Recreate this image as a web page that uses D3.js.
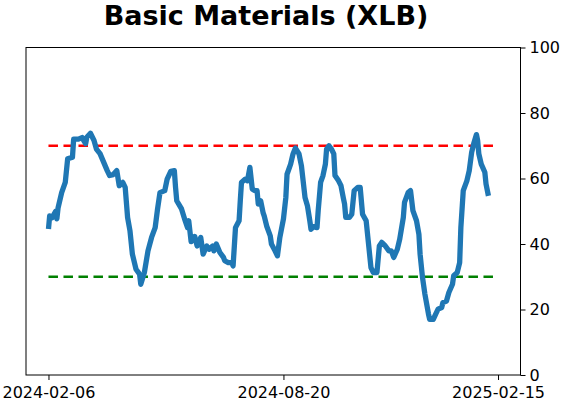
<!DOCTYPE html>
<html>
<head>
<meta charset="utf-8">
<script src="https://cdn.jsdelivr.net/npm/d3@7"></script>
<style>
  body { margin: 0; background: #fff; }
  text { font-family: "DejaVu Sans", sans-serif; }
</style>
</head>
<body>
<div class="canvas"></div>
<script>
// data
const dates = [
  '2024-02-06','2024-02-07','2024-02-09','2024-02-12','2024-02-13','2024-02-14','2024-02-17','2024-02-20','2024-02-22','2024-02-26',
  '2024-02-27','2024-03-02','2024-03-05','2024-03-08','2024-03-09','2024-03-12','2024-03-15','2024-03-17','2024-03-20','2024-03-23',
  '2024-03-26','2024-03-28','2024-03-31','2024-04-03','2024-04-05','2024-04-08','2024-04-10','2024-04-12','2024-04-14','2024-04-16',
  '2024-04-19','2024-04-22','2024-04-23','2024-04-26','2024-04-29','2024-05-02','2024-05-05','2024-05-07','2024-05-09','2024-05-13',
  '2024-05-15','2024-05-18','2024-05-21','2024-05-22','2024-05-23','2024-05-27','2024-05-30','2024-06-01','2024-06-02','2024-06-04',
  '2024-06-07','2024-06-09','2024-06-12','2024-06-14','2024-06-17','2024-06-19','2024-06-22','2024-06-23','2024-06-25','2024-06-28',
  '2024-07-01','2024-07-02','2024-07-05','2024-07-08','2024-07-09','2024-07-11','2024-07-14','2024-07-15','2024-07-16','2024-07-19',
  '2024-07-21','2024-07-23','2024-07-25','2024-07-27','2024-07-29','2024-07-30','2024-08-01','2024-08-03','2024-08-04','2024-08-06',
  '2024-08-09','2024-08-10','2024-08-13','2024-08-15','2024-08-17','2024-08-20','2024-08-22','2024-08-23','2024-08-26','2024-08-28',
  '2024-08-30','2024-09-02','2024-09-04','2024-09-07','2024-09-09','2024-09-11','2024-09-12','2024-09-14','2024-09-17','2024-09-18',
  '2024-09-20','2024-09-22','2024-09-24','2024-09-25','2024-09-27','2024-09-29','2024-10-01','2024-10-02','2024-10-05','2024-10-07',
  '2024-10-09','2024-10-10','2024-10-11','2024-10-14','2024-10-16','2024-10-18','2024-10-21','2024-10-23','2024-10-25','2024-10-28',
  '2024-10-30','2024-11-01','2024-11-03','2024-11-06','2024-11-08','2024-11-10','2024-11-13','2024-11-16','2024-11-18','2024-11-20',
  '2024-11-23','2024-11-25','2024-11-28','2024-11-29','2024-12-02','2024-12-04','2024-12-06','2024-12-09','2024-12-11','2024-12-12',
  '2024-12-14','2024-12-16','2024-12-19','2024-12-20','2024-12-23','2024-12-25','2024-12-27','2024-12-30','2024-12-31','2025-01-03',
  '2025-01-05','2025-01-08','2025-01-09','2025-01-12','2025-01-14','2025-01-15','2025-01-17','2025-01-20','2025-01-22','2025-01-24',
  '2025-01-26','2025-01-28','2025-01-29','2025-01-30','2025-02-01','2025-02-04','2025-02-05','2025-02-07'
];

const values = [
  44.6, 48.6, 48, 50, 47.7, 51, 55.7, 58.8, 66, 66.5,
  72, 72, 72.5, 70.6, 72.6, 73.8, 71.6, 69, 67.6, 65,
  62.4, 60.9, 61.2, 62.4, 57.8, 58.8, 57.3, 48.1, 44, 36.9,
  32.3, 30.8, 27.7, 31.3, 37.9, 42, 45, 50.7, 55.7, 56.3,
  59.8, 62.2, 62.4, 57.3, 53.2, 50.7, 47.1, 45, 47.1, 40.7,
  42.3, 39.4, 42, 36.9, 39.4, 38.4, 39.4, 37.9, 40, 37.4,
  35.9, 34.9, 34.3, 34.3, 33.3, 45, 47.1, 53.2, 58.8, 59.8,
  59.3, 63.4, 56.8, 56.3, 56.3, 52.2, 53.2, 49.6, 48.5, 45.5,
  42.5, 40, 37.9, 36.4, 42, 47.6, 54.2, 61.3, 64.4, 67.5,
  69.3, 67.5, 63.9, 54.2, 51.7, 47.1, 44.5, 45.3, 45, 50.2,
  58.8, 60.9, 64.4, 69, 70, 69, 67.5, 60.9, 59.3, 57.8,
  54, 52.2, 48.1, 48.1, 49.1, 56.3, 57.3, 57.3, 49.1, 47.1,
  40, 32.8, 31.3, 31.3, 39.4, 40.5, 39.4, 37.9, 37.9, 35.9,
  38.4, 41.5, 48.1, 52.7, 55.7, 56.3, 50.2, 47.1, 43, 36.9,
  29.8, 24.7, 18.6, 17, 17, 18.6, 20.1, 20.6, 22.1, 22.6,
  25.2, 27.7, 30.3, 31.3, 34.3, 45, 56.3, 59.3, 62.4, 68,
  71, 73.4, 71.6, 67.5, 64.4, 61.9, 58.3, 54.7
];

const xTickLabels = ['2024-02-06', '2024-08-20', '2025-02-15'];
const yTicks = [0, 20, 40, 60, 80, 100];
const upperLevel = 70;
const lowerLevel = 30;
const title = 'Basic Materials (XLB)';

const width = 562;
const height = 402;
const margin = {top: 47.5, right: 41.5, bottom: 27, left: 26};
const graphWidth = width - margin.left - margin.right;
const graphHeight = height - margin.top - margin.bottom;

const parse = d3.timeParse('%Y-%m-%d');
const data = dates.map((d, i) => ({date: parse(d), value: values[i]}));
const tickDates = xTickLabels.map(parse);

const svg = d3.select('.canvas')
  .append('svg')
    .attr('width', width)
    .attr('height', height);

const graph = svg.append('g')
  .attr('transform', `translate(${margin.left}, ${margin.top})`);

// x range runs 5% past the first and last tick date
const t0 = tickDates[0].getTime();
const t1 = tickDates[tickDates.length - 1].getTime();
const pad = (t1 - t0) * 0.05;
const x = d3.scaleTime()
  .domain([new Date(t0 - pad), new Date(t1 + pad)])
  .range([0, graphWidth]);

const y = d3.scaleLinear()
  .domain([0, 100])
  .range([graphHeight, 0]);

// threshold lines
const levels = [
  {value: upperLevel, color: '#ff0000'},
  {value: lowerLevel, color: '#008000'}
];
graph.selectAll('line.level')
  .data(levels)
  .enter()
  .append('line')
    .attr('class', 'level')
    .attr('x1', x(tickDates[0]))
    .attr('x2', x(tickDates[tickDates.length - 1]))
    .attr('y1', d => y(d.value))
    .attr('y2', d => y(d.value))
    .attr('stroke', d => d.color)
    .attr('stroke-width', 2.6)
    .attr('stroke-dasharray', '9.5,5.5');

// main series
const line = d3.line()
  .x(d => x(d.date))
  .y(d => y(d.value));

graph.append('path')
  .datum(data)
  .attr('d', line)
  .attr('fill', 'none')
  .attr('stroke', '#1f77b4')
  .attr('stroke-width', 5.3)
  .attr('stroke-linejoin', 'round');

// frame
graph.append('rect')
  .attr('width', graphWidth)
  .attr('height', graphHeight)
  .attr('fill', 'none')
  .attr('stroke', '#000')
  .attr('stroke-width', 1);

// axes
const xAxis = d3.axisBottom(x)
  .tickValues(tickDates)
  .tickFormat(d3.timeFormat('%Y-%m-%d'))
  .tickSize(5)
  .tickSizeOuter(0)
  .tickPadding(7);

const yAxis = d3.axisRight(y)
  .tickValues(yTicks)
  .tickSize(5)
  .tickSizeOuter(0)
  .tickPadding(4);

const xAxisGroup = graph.append('g')
  .attr('transform', `translate(0, ${graphHeight})`)
  .call(xAxis);

const yAxisGroup = graph.append('g')
  .attr('transform', `translate(${graphWidth}, 0)`)
  .call(yAxis);

[xAxisGroup, yAxisGroup].forEach(g => {
  g.select('.domain').remove();
  g.selectAll('text')
    .attr('font-family', '"DejaVu Sans", sans-serif')
    .attr('font-size', 16)
    .attr('fill', '#000');
  g.selectAll('line').attr('stroke', '#000');
});

// title
svg.append('text')
  .attr('x', 266)
  .attr('y', 24.5)
  .attr('text-anchor', 'middle')
  .attr('font-size', 27)
  .attr('font-weight', 'bold')
  .attr('fill', '#000')
  .text(title);
</script>
</body>
</html>
